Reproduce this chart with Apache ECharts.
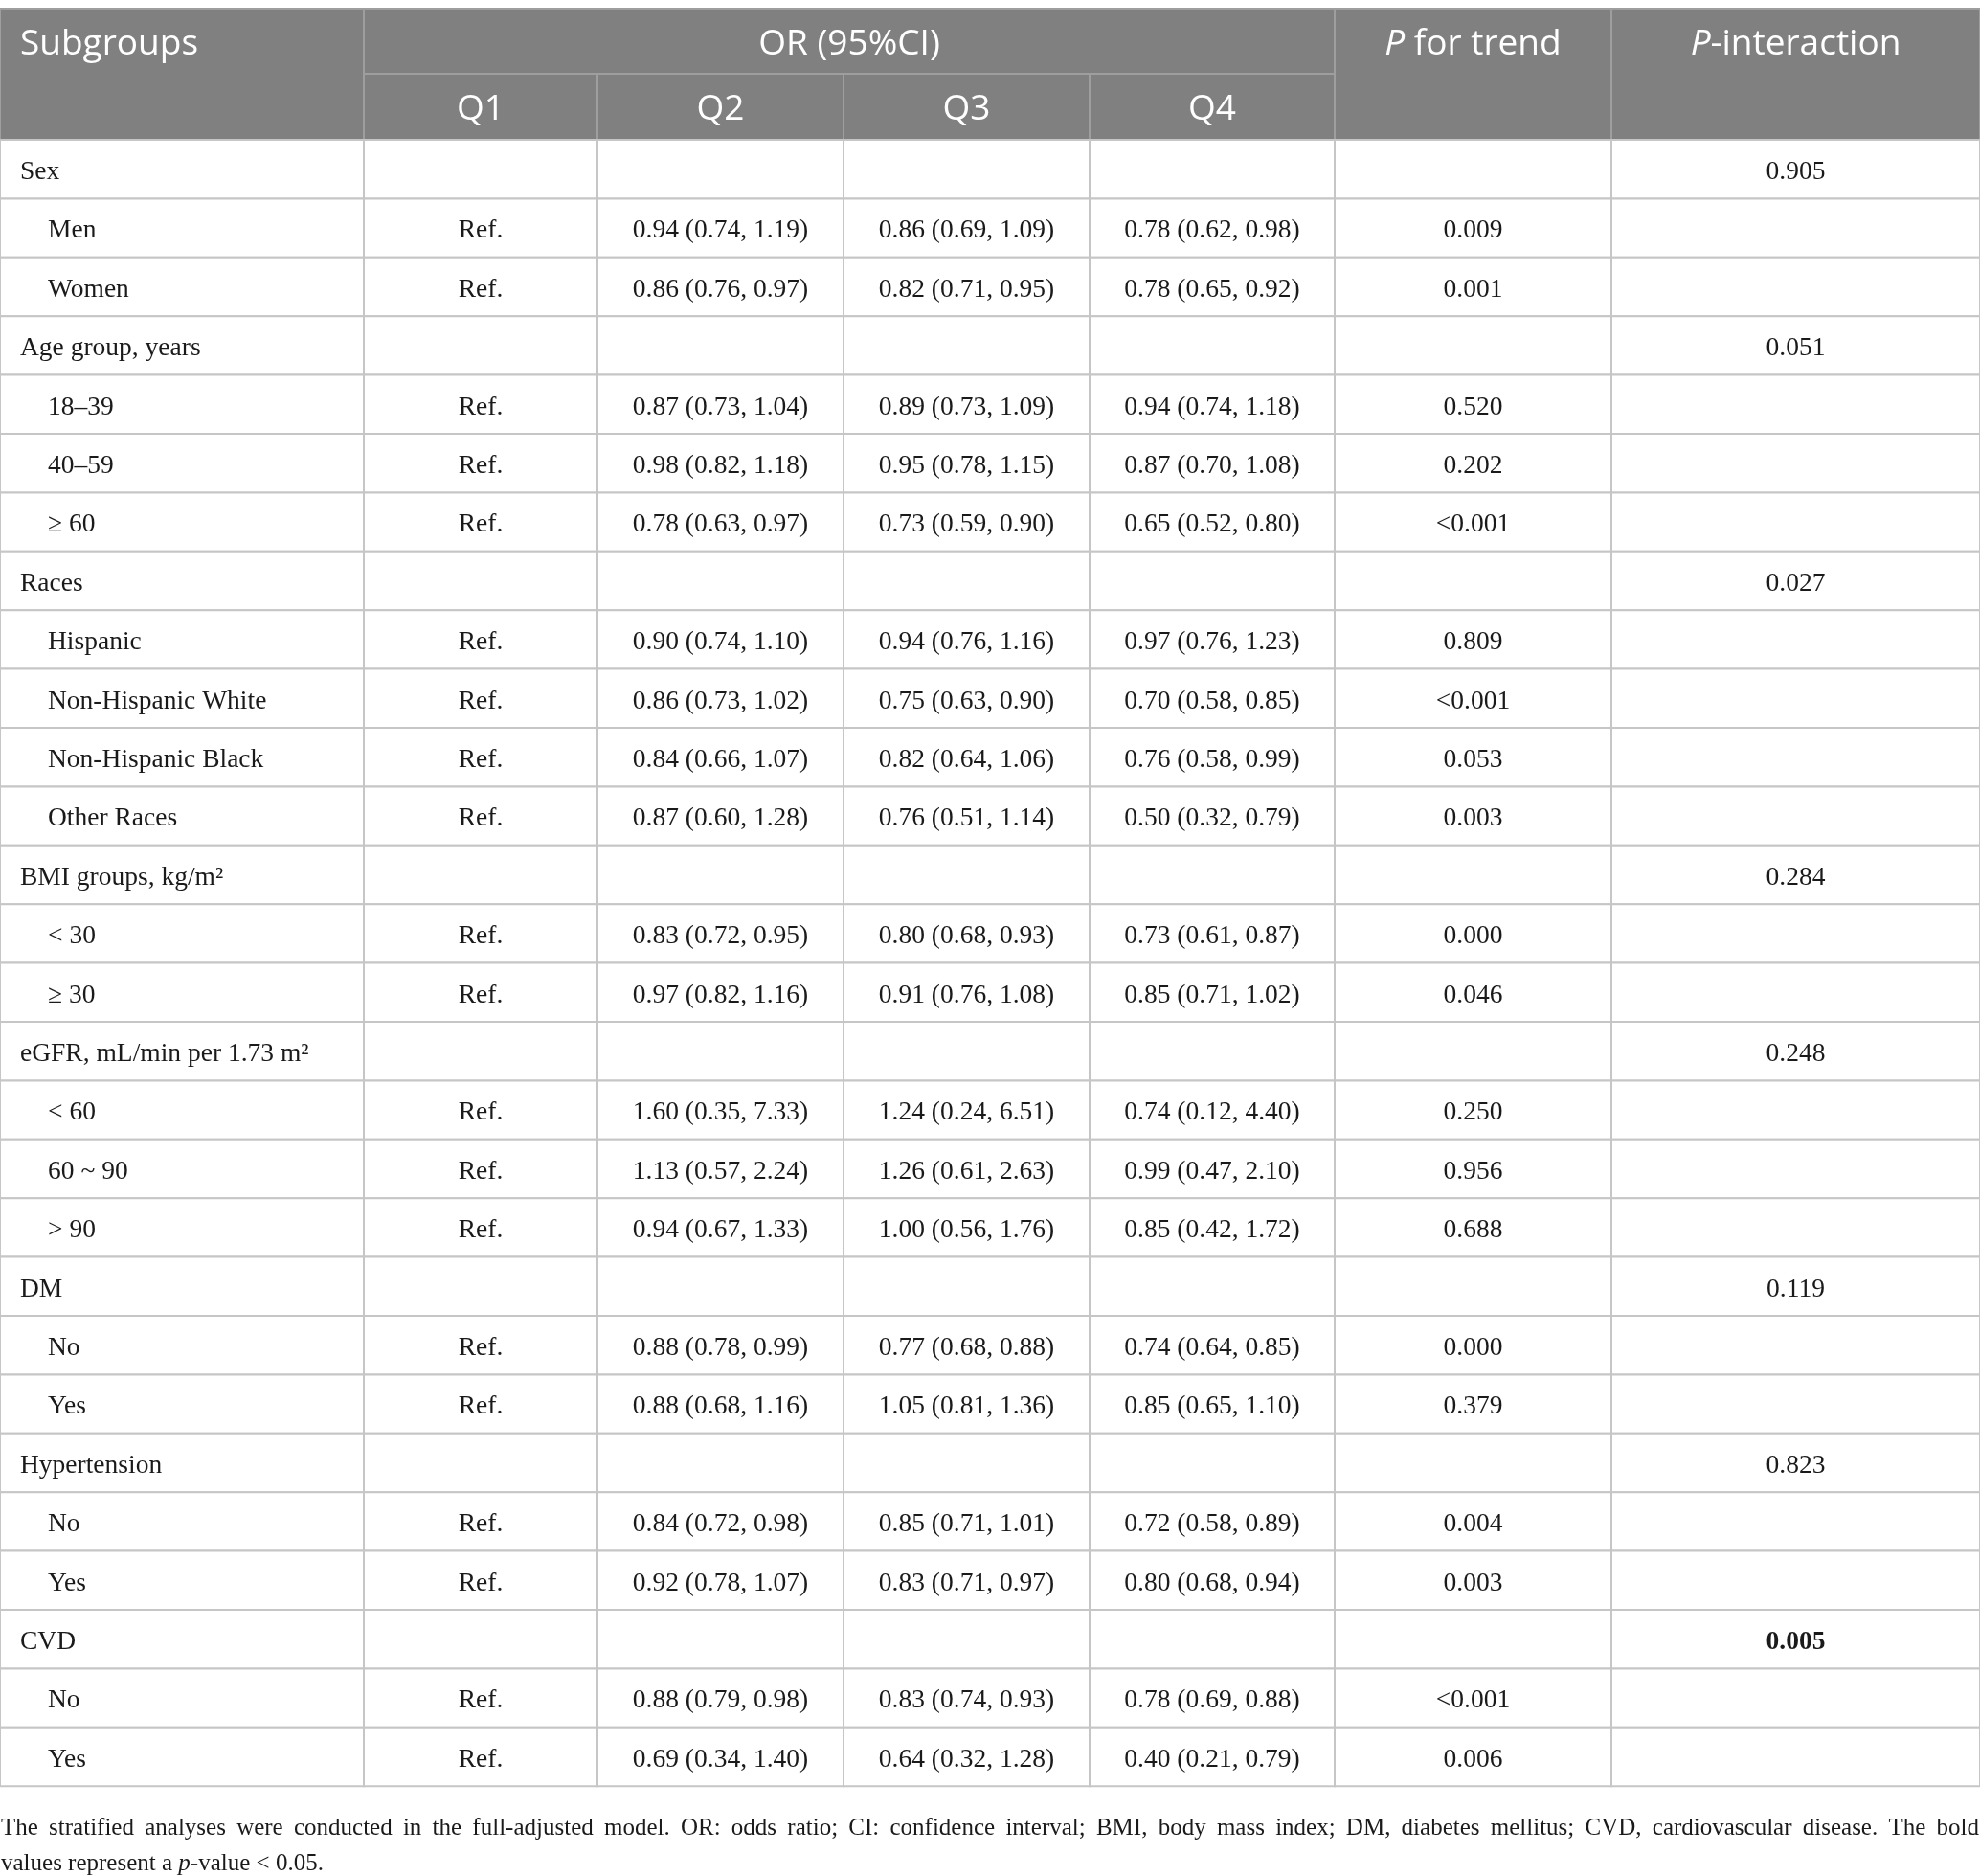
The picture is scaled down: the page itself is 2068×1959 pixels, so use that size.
<!DOCTYPE html>
<html lang="en">
<head>
<meta charset="UTF-8">
<title>Stratified analyses</title>
<style>
  html, body { margin: 0; padding: 0; background: #fff; }
  #main { width: 2068px; height: 1959px; }
</style>
</head>
<body>
<div id="main"></div>
<script src="https://cdn.jsdelivr.net/npm/echarts@6/dist/echarts.min.js"></script>
<script>
// ---- table data ----
var headerTop = ['Subgroups', 'OR (95%CI)', '{i|P} for trend', '{i|P}-interaction'];
var quartiles = ['Q1', 'Q2', 'Q3', 'Q4'];

var rowLabels = ['Sex', 'Men', 'Women', 'Age group, years', '18–39', '40–59', '≥ 60',
  'Races', 'Hispanic', 'Non-Hispanic White', 'Non-Hispanic Black', 'Other Races',
  'BMI groups, kg/m²', '< 30', '≥ 30', 'eGFR, mL/min per 1.73 m²', '< 60', '60 ~ 90', '> 90',
  'DM', 'No', 'Yes', 'Hypertension', 'No', 'Yes', 'CVD', 'No', 'Yes'];
var isGroup = [1, 0, 0, 1, 0, 0, 0, 1, 0, 0, 0, 0, 1, 0, 0, 1, 0, 0, 0, 1, 0, 0, 1, 0, 0, 1, 0, 0];

var q2 = ['', '0.94 (0.74, 1.19)', '0.86 (0.76, 0.97)', '', '0.87 (0.73, 1.04)', '0.98 (0.82, 1.18)', '0.78 (0.63, 0.97)',
  '', '0.90 (0.74, 1.10)', '0.86 (0.73, 1.02)', '0.84 (0.66, 1.07)', '0.87 (0.60, 1.28)',
  '', '0.83 (0.72, 0.95)', '0.97 (0.82, 1.16)', '', '1.60 (0.35, 7.33)', '1.13 (0.57, 2.24)', '0.94 (0.67, 1.33)',
  '', '0.88 (0.78, 0.99)', '0.88 (0.68, 1.16)', '', '0.84 (0.72, 0.98)', '0.92 (0.78, 1.07)', '', '0.88 (0.79, 0.98)', '0.69 (0.34, 1.40)'];
var q3 = ['', '0.86 (0.69, 1.09)', '0.82 (0.71, 0.95)', '', '0.89 (0.73, 1.09)', '0.95 (0.78, 1.15)', '0.73 (0.59, 0.90)',
  '', '0.94 (0.76, 1.16)', '0.75 (0.63, 0.90)', '0.82 (0.64, 1.06)', '0.76 (0.51, 1.14)',
  '', '0.80 (0.68, 0.93)', '0.91 (0.76, 1.08)', '', '1.24 (0.24, 6.51)', '1.26 (0.61, 2.63)', '1.00 (0.56, 1.76)',
  '', '0.77 (0.68, 0.88)', '1.05 (0.81, 1.36)', '', '0.85 (0.71, 1.01)', '0.83 (0.71, 0.97)', '', '0.83 (0.74, 0.93)', '0.64 (0.32, 1.28)'];
var q4 = ['', '0.78 (0.62, 0.98)', '0.78 (0.65, 0.92)', '', '0.94 (0.74, 1.18)', '0.87 (0.70, 1.08)', '0.65 (0.52, 0.80)',
  '', '0.97 (0.76, 1.23)', '0.70 (0.58, 0.85)', '0.76 (0.58, 0.99)', '0.50 (0.32, 0.79)',
  '', '0.73 (0.61, 0.87)', '0.85 (0.71, 1.02)', '', '0.74 (0.12, 4.40)', '0.99 (0.47, 2.10)', '0.85 (0.42, 1.72)',
  '', '0.74 (0.64, 0.85)', '0.85 (0.65, 1.10)', '', '0.72 (0.58, 0.89)', '0.80 (0.68, 0.94)', '', '0.78 (0.69, 0.88)', '0.40 (0.21, 0.79)'];
var pTrend = ['', '0.009', '0.001', '', '0.520', '0.202', '<0.001', '', '0.809', '<0.001', '0.053', '0.003',
  '', '0.000', '0.046', '', '0.250', '0.956', '0.688', '', '0.000', '0.379', '', '0.004', '0.003', '', '<0.001', '0.006'];
var pInteraction = ['0.905', '', '', '0.051', '', '', '', '0.027', '', '', '', '', '0.284', '', '', '0.248',
  '', '', '', '0.119', '', '', '0.823', '', '', '0.005', '', ''];
var boldInteraction = [25];

var footnote = [
  'The stratified analyses were conducted in the full-adjusted model. OR: odds ratio; CI: confidence interval; BMI, body mass index; DM, diabetes mellitus; CVD, cardiovascular disease. The bold',
  'values represent a {i|p}-value < 0.05.'
];
var footnoteJustify = [true, false];

// ---- layout (pixels, used as axis units) ----
var W = 2068, H = 1959;
var colEdges = [0, 380, 624, 881, 1138, 1394, 1683, 2068];
var top0 = 9, headMid = 77, headBottom = 146, rowH = 61.4;
var padLeft = 21, padIndent = 50;
var noteY = [1909, 1946];
var headShift = 3, bodyShift = 3;

var headBg = '#7f807f';
var headLine = '#9d9e9d';
var bodyLine = '#c6c6c6';
var serif = '"Liberation Serif", "Times New Roman", serif';
var sans = '"Open Sans", "Noto Sans", sans-serif';
var headSize = 37, bodySize = 27.5, noteSize = 25;

var measureCtx = document.createElement('canvas').getContext('2d');

var cells = [];
function addCell(c) { cells.push(c); }

// header
addCell({ x0: colEdges[0], x1: colEdges[1], y0: top0, y1: headBottom, ty: (top0 + headMid) / 2 + headShift, text: headerTop[0], kind: 'head', align: 'left', pad: padLeft });
addCell({ x0: colEdges[1], x1: colEdges[5], y0: top0, y1: headMid, ty: (top0 + headMid) / 2 + headShift, text: headerTop[1], kind: 'head', align: 'center' });
addCell({ x0: colEdges[5], x1: colEdges[6], y0: top0, y1: headBottom, ty: (top0 + headMid) / 2 + headShift, text: headerTop[2], kind: 'head', align: 'center' });
addCell({ x0: colEdges[6], x1: colEdges[7], y0: top0, y1: headBottom, ty: (top0 + headMid) / 2 + headShift, text: headerTop[3], kind: 'head', align: 'center' });
quartiles.forEach(function (q, i) {
  addCell({ x0: colEdges[i + 1], x1: colEdges[i + 2], y0: headMid, y1: headBottom, ty: (headMid + headBottom) / 2 + headShift, text: q, kind: 'head', align: 'center' });
});

// body
rowLabels.forEach(function (label, r) {
  var y0 = headBottom + r * rowH, y1 = y0 + rowH, ty = (y0 + y1) / 2 + bodyShift;
  var values = [label, isGroup[r] ? '' : 'Ref.', q2[r], q3[r], q4[r], pTrend[r], pInteraction[r]];
  values.forEach(function (v, c) {
    addCell({
      x0: colEdges[c], x1: colEdges[c + 1], y0: y0, y1: y1, ty: ty, text: v, kind: 'body',
      align: c === 0 ? 'left' : 'center',
      pad: c === 0 ? (isGroup[r] ? padLeft : padIndent) : 0,
      bold: c === 6 && boldInteraction.indexOf(r) >= 0
    });
  });
});

// footnote
footnote.forEach(function (t, i) {
  addCell({ x0: 0, x1: W, y0: noteY[i], y1: noteY[i], ty: noteY[i], text: t, kind: 'note', align: 'left', pad: 1, justify: footnoteJustify[i] });
});

var seriesData = cells.map(function (c, i) { return [c.x0, c.x1, c.y0, c.y1, c.ty, i]; });

function textEl(x, y, text, c) {
  var isHead = c.kind === 'head';
  var size = isHead ? headSize : (c.kind === 'note' ? noteSize : bodySize);
  var family = isHead ? sans : serif;
  var color = isHead ? '#ffffff' : '#1a1a1a';
  return {
    type: 'text',
    x: x,
    y: y,
    style: {
      text: text,
      fill: color,
      fontFamily: family,
      fontSize: size,
      fontWeight: c.bold ? 'bold' : 'normal',
      align: c.align,
      verticalAlign: 'middle',
      rich: { i: { fontStyle: 'italic', fontFamily: family, fontSize: size, fill: color } }
    }
  };
}

function renderItem(params, api) {
  var c = cells[api.value(5)];
  var p0 = api.coord([api.value(0), api.value(2)]);
  var p1 = api.coord([api.value(1), api.value(3)]);
  var py = api.coord([0, api.value(4)])[1];
  var children = [];
  if (c.kind !== 'note') {
    children.push({
      type: 'rect',
      shape: { x: p0[0], y: p0[1], width: p1[0] - p0[0], height: p1[1] - p0[1] },
      style: {
        fill: c.kind === 'head' ? headBg : '#ffffff',
        stroke: c.kind === 'head' ? headLine : bodyLine,
        lineWidth: 2
      }
    });
  }
  if (!c.text) return { type: 'group', children: children };

  if (c.justify) {
    // spread the words over the full line width
    var words = c.text.split(' ');
    measureCtx.font = noteSize + 'px ' + serif;
    var widths = words.map(function (w) { return measureCtx.measureText(w).width; });
    var total = widths.reduce(function (a, b) { return a + b; }, 0);
    var left = p0[0] + c.pad, right = p1[0] - 1;
    var gap = (right - left - total) / (words.length - 1);
    var x = left;
    words.forEach(function (w, k) {
      children.push(textEl(x, py, w, c));
      x += widths[k] + gap;
    });
  } else {
    var tx = c.align === 'left' ? p0[0] + c.pad : (p0[0] + p1[0]) / 2;
    children.push(textEl(tx, py, c.text, c));
  }
  return { type: 'group', children: children };
}

var chart = echarts.init(document.getElementById('main'));
var option = {
  animation: false,
  grid: { left: 0, right: 0, top: 0, bottom: 0 },
  xAxis: { type: 'value', min: 0, max: W, show: false },
  yAxis: { type: 'value', min: 0, max: H, inverse: true, show: false },
  series: [{
    type: 'custom',
    clip: false,
    renderItem: renderItem,
    data: seriesData,
    encode: { x: [0, 1], y: [2, 3] }
  }]
};
chart.setOption(option);
</script>
</body>
</html>
